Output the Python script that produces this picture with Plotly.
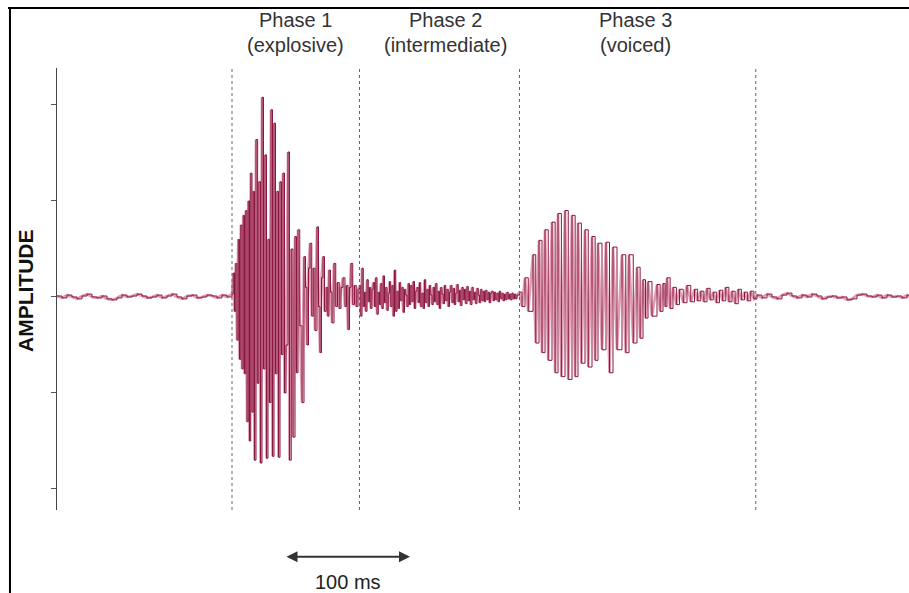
import plotly.graph_objects as go

# ---------------- data (time in ms, amplitude in arbitrary units) ----------------
pre_t = [0, 4, 8, 12, 16, 20, 24, 28, 32, 36,
         40, 44, 48, 52, 56, 60, 64, 68, 72, 76,
         80, 84, 88, 92, 96, 100, 104, 108, 112, 116,
         120, 124, 128, 132, 136, 140]
pre_amp = [0.01, -0.01, 0.02, 0.0, -0.02, 0.01, 0.03, 0.0, -0.01, 0.01,
           -0.02, -0.03, -0.01, 0.02, 0.0, 0.01, 0.03, 0.01, -0.01, 0.0,
           0.02, -0.01, 0.01, 0.03, 0.0, -0.02, 0.01, 0.02, -0.01, 0.0,
           0.02, 0.01, -0.01, 0.02, 0.0, 0.03]

phase1_t = [141, 142, 143, 144, 145, 146, 147, 148, 149, 150,
            151, 152, 153, 154, 155, 156, 157, 158, 159.2, 160.5,
            161.5, 162.8, 164, 165.2, 166.4, 167.6, 168.8, 170, 171.2, 172.4,
            173.6, 174.8, 176, 177.2, 178.4, 179.6, 180.8, 182, 183.2, 184.8,
            186, 187.4, 188.8, 190.4, 191.6, 192.8, 194.2, 196, 197.6, 198.8,
            200, 201.2, 202.4, 203.8, 205, 206.4, 208, 209.2, 210.4, 211.6,
            212.8, 214, 215.4, 216.6, 217.6, 218.8, 220, 221.6, 223, 224.4,
            225.8, 227.2, 228.8, 230.4, 231.6, 232.8, 234, 235.2, 236.6, 238,
            239.4, 240.8]
phase1_amp = [0.25, -0.15, 0.35, -0.45, 0.6, -0.65, 0.75, -0.75, 0.85, -0.8,
              0.9, -1.3, 1.0, -1.5, 1.29, -1.2, 1.1, -1.7, 1.64, -0.9,
              1.2, -1.73, 2.08, -0.75, 1.48, -1.68, 0.6, -1.1, 1.95, -1.66,
              1.81, -0.8, 1.1, -1.67, 1.2, -0.6, 1.29, -1.0, -0.5, 1.51,
              -1.7, 0.5, -1.46, 0.63, -0.79, 0.7, -0.3, -1.1, 0.42, 0.1,
              -0.5, 0.3, 0.56, -0.2, 0.3, -0.35, 0.73, -0.1, -0.58, 0.2,
              0.42, -0.15, 0.1, -0.2, 0.28, 0.05, -0.27, 0.35, -0.1, 0.15,
              -0.12, 0.1, 0.2, -0.1, 0.12, -0.34, 0.1, 0.35, -0.08, 0.12,
              -0.1, 0.08]

phase2_t = [242, 243, 244, 245, 246, 247, 248, 249, 250, 251,
            252, 253, 254, 255, 256, 257, 258, 259, 260, 261,
            262, 263, 264, 265, 266, 267, 268, 269, 270, 271,
            272, 273, 274, 275, 276, 277, 278, 279, 280, 281,
            282, 283, 284, 285, 286, 287, 288, 289, 290, 291,
            292, 293, 294, 295, 296, 297, 298, 299, 300, 301,
            302, 303, 304, 305, 306, 307, 308, 309, 310, 311,
            312, 313, 314, 315, 316, 317, 318, 319, 320, 321,
            322, 323, 324, 325, 326, 327, 328, 329, 330, 331,
            332, 333, 334, 335, 336, 337, 338, 339, 340, 341,
            342, 343, 344, 345, 346, 347, 348, 349, 350, 351,
            352, 353, 354, 355, 356, 357, 358, 359, 360, 361,
            362, 363, 364, 365, 366, 367, 368]
phase2_amp = [0.12, -0.2, 0.3, -0.1, 0.05, -0.15, 0.18, -0.05, 0.1, -0.12,
              0.08, 0.15, -0.1, 0.2, -0.18, 0.05, -0.08, 0.14, -0.12, 0.22,
              -0.06, 0.1, -0.14, 0.04, 0.16, -0.1, 0.12, -0.2, 0.28, -0.15,
              0.06, -0.12, 0.15, -0.04, 0.1, -0.16, 0.08, 0.02, -0.1, 0.14,
              -0.08, 0.12, -0.05, 0.16, -0.12, 0.06, 0.1, -0.06, 0.15, -0.1,
              0.04, -0.12, 0.18, -0.06, 0.08, -0.1, 0.12, 0.02, -0.08, 0.1,
              -0.05, 0.14, -0.08, 0.06, -0.12, 0.1, 0.03, -0.07, 0.12, -0.04,
              0.08, -0.1, 0.05, 0.12, -0.06, 0.09, -0.08, 0.04, 0.13, -0.05,
              0.07, -0.09, 0.1, -0.03, 0.08, -0.07, 0.11, -0.04, 0.06, -0.08,
              0.1, -0.03, 0.05, -0.07, 0.09, 0.02, -0.06, 0.08, -0.04, 0.06,
              -0.05, 0.07, -0.03, 0.05, -0.06, 0.04, 0.06, -0.04, 0.05, -0.03,
              0.04, -0.05, 0.06, -0.02, 0.04, -0.04, 0.03, -0.03, 0.05, -0.02,
              0.03, -0.03, 0.04, -0.02, 0.03, -0.02, 0.02]

phase3_t = [370, 372, 374.4, 377, 380.8, 383, 385.6, 388, 390.4, 393,
            396, 398.5, 400.8, 403.5, 406.4, 409, 412, 414.5, 416.8, 419.5,
            422.4, 425, 428, 430.5, 432.8, 436, 439.2, 442, 444.8, 448,
            452, 455, 457.6, 461, 464, 466.5, 468.8, 470.8, 472.8, 476,
            480, 482.5, 484.8, 486.5, 488, 490.5, 492.8, 495.5, 498, 501,
            504, 507, 510, 512.5, 515, 517.5, 520, 522.5, 525, 527.5,
            530, 532.5, 535, 537.5, 540, 542.5, 545, 547.5, 550, 552.5,
            555, 557.5]
phase3_amp = [0.05, -0.1, 0.2, -0.15, 0.44, -0.48, 0.59, -0.58, 0.7, -0.66,
              0.78, -0.79, 0.87, -0.83, 0.9, -0.86, 0.85, -0.83, 0.77, -0.69,
              0.7, -0.73, 0.63, -0.66, 0.56, -0.55, 0.57, -0.79, 0.52, -0.55,
              0.44, -0.58, 0.44, -0.48, 0.31, -0.43, 0.18, -0.22, 0.16, -0.2,
              0.13, -0.15, 0.14, -0.1, 0.2, -0.12, 0.1, -0.08, 0.08, -0.06,
              0.12, -0.05, 0.08, -0.04, 0.06, -0.05, 0.09, -0.03, 0.05, -0.06,
              0.07, -0.04, 0.1, -0.05, 0.06, -0.07, 0.08, -0.03, 0.05, -0.04,
              0.06, -0.02]

post_t = [560, 564, 568, 572, 576, 580, 584, 588, 592, 596,
          600, 604, 608, 612, 616, 620, 624, 628, 632, 636,
          640, 644, 648, 652, 656, 660, 664, 668, 672, 676,
          680, 682]
post_amp = [0.02, -0.01, 0.03, 0.0, -0.02, 0.02, 0.04, 0.01, -0.01, 0.02,
            0.0, 0.03, 0.01, -0.02, 0.0, 0.01, -0.01, 0.0, -0.03, -0.02,
            0.02, 0.03, 0.01, 0.0, 0.02, -0.01, 0.02, 0.0, 0.01, -0.01,
            0.02, 0.0]

phase_boundaries_ms = [140, 242, 370, 559]
phase_titles = ["Phase 1", "Phase 2", "Phase 3"]
phase_subtitles = ["(explosive)", "(intermediate)", "(voiced)"]
phase_label_ms = [191, 311, 463]
amp_ticks = [-2, -1, 0, 1, 2]
scale_bar_ms = [182.4, 282.4]
scale_bar_label = "100 ms"

segments = [(pre_t, pre_amp), (phase1_t, phase1_amp), (phase2_t, phase2_amp),
            (phase3_t, phase3_amp), (post_t, post_amp)]
t_all, a_all = [], []
for ts, vs in segments:
    assert len(ts) == len(vs), (len(ts), len(vs))
    t_all += ts
    a_all += vs

DARK = "#8a1740"
PINK = "rgba(214,130,158,0.8)"
FONT = "Liberation Sans, Arial, Helvetica"

fig = go.Figure()
fig.add_trace(go.Scatter(x=t_all, y=a_all, mode="lines", line=dict(color=PINK, width=2.6, shape="linear"),
                         hoverinfo="skip", showlegend=False))
fig.add_trace(go.Scatter(x=t_all, y=a_all, mode="lines", line=dict(color=DARK, width=1.0, shape="hv"),
                         showlegend=False))

shapes = []
for b in phase_boundaries_ms:
    shapes.append(dict(type="line", xref="x", yref="paper", x0=b, x1=b, y0=0, y1=1,
                       line=dict(color="#666", width=1, dash="dot")))
# outer frame (top and left edges)
shapes.append(dict(type="line", xref="paper", yref="paper", x0=-0.0575, x1=1.0, y0=1.1357, y1=1.1357,
                   line=dict(color="black", width=2)))
shapes.append(dict(type="line", xref="paper", yref="paper", x0=-0.0552, x1=-0.0552, y0=1.1357, y1=-0.19,
                   line=dict(color="black", width=2)))

annotations = []
for title, sub, xm in zip(phase_titles, phase_subtitles, phase_label_ms):
    annotations.append(dict(x=xm, y=1.108, xref="x", yref="paper", text=title, showarrow=False,
                            font=dict(family=FONT, size=20, color="#333"),
                            xanchor="center", yanchor="middle"))
    annotations.append(dict(x=xm, y=1.052, xref="x", yref="paper", text=sub, showarrow=False,
                            font=dict(family=FONT, size=20, color="#333"),
                            xanchor="center", yanchor="middle"))
annotations.append(dict(x=scale_bar_ms[1], y=-0.106, xref="x", yref="paper",
                        ax=-125, ay=0, axref="pixel", ayref="pixel",
                        text="", showarrow=True, arrowhead=2, startarrowhead=2, arrowside="end+start",
                        arrowsize=1.1, startarrowsize=1.1, arrowwidth=2, arrowcolor="#333"))
annotations.append(dict(x=(scale_bar_ms[0] + scale_bar_ms[1]) / 2, y=-0.163, xref="x", yref="paper",
                        text=scale_bar_label, showarrow=False,
                        font=dict(family=FONT, size=20, color="#222"),
                        xanchor="center", yanchor="middle"))
annotations.append(dict(x=-0.0376, y=0.4977, xref="paper", yref="paper", text="<b>AMPLITUDE</b>",
                        textangle=-90, showarrow=False,
                        font=dict(family=FONT, size=21, color="#111"),
                        xanchor="center", yanchor="middle"))

fig.update_layout(
    width=909, height=593,
    margin=dict(l=57, r=0, t=68, b=83),
    paper_bgcolor="white", plot_bgcolor="white",
    shapes=shapes, annotations=annotations,
    xaxis=dict(range=[0, 681.6], visible=False),
    yaxis=dict(range=[-2.219, 2.385], showline=True, linecolor="#444", linewidth=1.3,
               ticks="outside", ticklen=5, tickcolor="#555", tickvals=amp_ticks,
               showticklabels=False, showgrid=False, zeroline=False),
)

fig.write_html("out.html")
